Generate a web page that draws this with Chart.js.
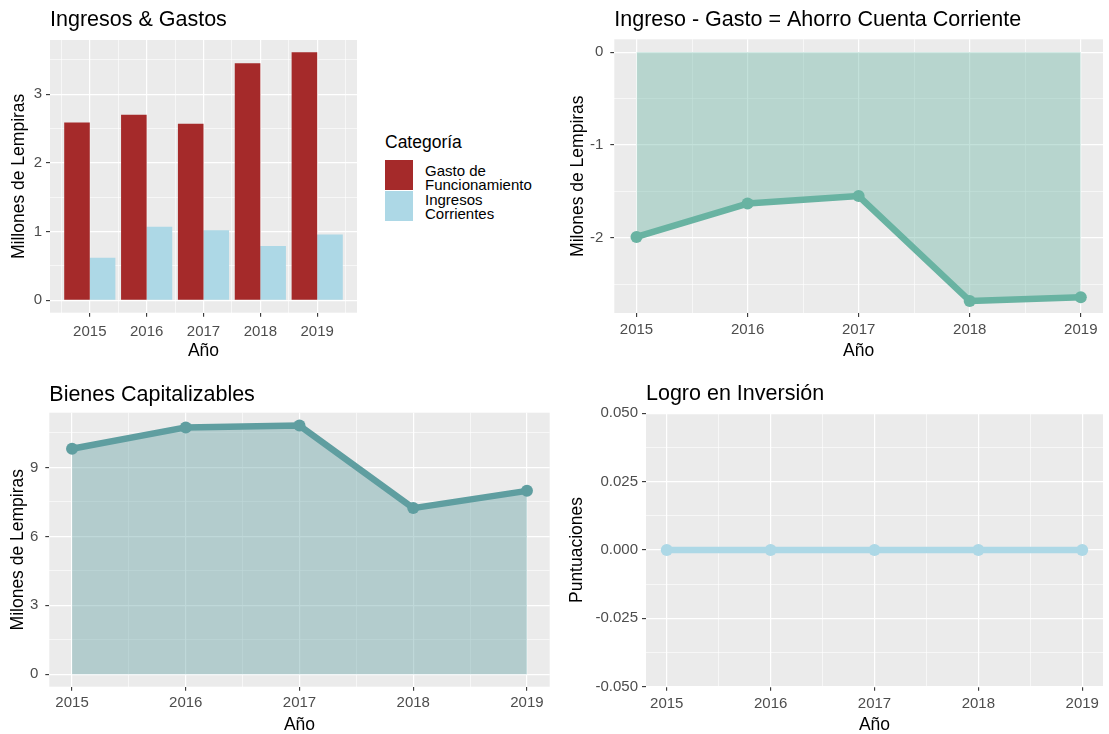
<!DOCTYPE html>
<html lang="es">
<head>
<meta charset="utf-8">
<title>Ingresos, Gastos y Ahorro</title>
<script src="https://cdn.jsdelivr.net/npm/chart.js@4.4.1/dist/chart.umd.min.js"></script>
<style>
    html, body { margin: 0; padding: 0; background: #ffffff; overflow: hidden; }
    body { position: relative; width: 1109px; height: 734px; font-family: Arial, "Liberation Sans", sans-serif; }
    canvas { position: absolute; }
    .leg { position: absolute; color: #000000; white-space: nowrap; }
    .leg-title { font-size: 17.5px; line-height: 17px; }
    .leg-key { width: 28px; height: 30px; }
    .leg-label { font-size: 15px; line-height: 14.3px; }
</style>
</head>
<body>
<canvas id="chart-ingresos" width="365" height="368" style="left:0px;top:0px"></canvas>
<canvas id="chart-ahorro" width="549" height="368" style="left:560px;top:0px"></canvas>
<canvas id="chart-bienes" width="560" height="368" style="left:0px;top:368px"></canvas>
<canvas id="chart-logro" width="549" height="368" style="left:560px;top:368px"></canvas>
<div id="legend"></div>

<script>
    // Values (millones de lempiras)
    var years = [2015, 2016, 2017, 2018, 2019];
    var gastoFuncionamiento = [2.59, 2.70, 2.57, 3.45, 3.61];
    var ingresosCorrientes = [0.62, 1.07, 1.02, 0.79, 0.96];
    var ahorroCuentaCorriente = [-1.99, -1.63, -1.55, -2.68, -2.64];
    var bienesCapitalizables = [9.81, 10.74, 10.82, 7.23, 7.98];
    var logroInversion = [0, 0, 0, 0, 0];

    // Legend
    var categoryTitle = 'Categoría';
    var categoryLabels = [['Gasto de', 'Funcionamiento'], ['Ingresos', 'Corrientes']];

    // Tick values (major ones get a label, minor ones only a thin grid line)
    var yearMinor = [2014.5, 2015.5, 2016.5, 2017.5, 2018.5, 2019.5];
    var ingresosMajor = [0, 1, 2, 3];
    var ingresosMinor = [0.5, 1.5, 2.5, 3.5];
    var ahorroMajor = [-2, -1, 0];
    var ahorroMinor = [-2.5, -1.5, -0.5];
    var bienesMajor = [0, 3, 6, 9];
    var bienesMinor = [1.5, 4.5, 7.5, 10.5];
    var logroMajor = [-0.05, -0.025, 0, 0.025, 0.05];
    var logroMinor = [-0.0375, -0.0125, 0.0125, 0.0375];

    var COLOR_GASTO = '#A52A2A';
    var COLOR_INGRESO = '#ADD8E6';
    var COLOR_AHORRO = '#69B3A2';
    var COLOR_BIENES = '#5F9EA0';
    var COLOR_LOGRO = '#ADD8E6';

    Chart.defaults.font.family = 'Arial, "Liberation Sans", sans-serif';
    Chart.defaults.color = '#4D4D4D';

    // grey panel + left aligned title, ggplot style
    Chart.register({
        id: 'ggPanel',
        beforeDraw: function(chart) {
            var a = chart.chartArea;
            var ctx = chart.ctx;
            ctx.save();
            ctx.fillStyle = '#EBEBEB';
            ctx.fillRect(a.left, a.top, a.right - a.left, a.bottom - a.top);
            ctx.restore();
        },
        afterDraw: function(chart, args, opts) {
            if (!opts.text) return;
            var ctx = chart.ctx;
            ctx.save();
            ctx.font = '21.5px Arial, "Liberation Sans", sans-serif';
            ctx.fillStyle = '#000000';
            ctx.textAlign = 'left';
            ctx.textBaseline = 'alphabetic';
            ctx.fillText(opts.text, chart.chartArea.left, opts.baseline);
            ctx.restore();
        }
    });

    function fmtPlain(v) { return String(v); }
    function fmtThree(v) { return v.toFixed(3); }

    // one linear axis with major/minor grid lines
    function ggAxis(o) {
        var all = o.major.concat(o.minor).filter(function(v) {
            return v >= o.min && v <= o.max;
        }).sort(function(a, b) { return a - b; });
        var isMajor = function(v) { return o.major.indexOf(v) >= 0; };

        return {
            type: 'linear',
            min: o.min,
            max: o.max,
            bounds: 'data',
            offset: false,
            afterBuildTicks: function(scale) {
                scale.ticks = all.map(function(v) { return { value: v }; });
            },
            afterFit: function(scale) {
                if (o.horizontal) scale.height = o.size;
                else scale.width = o.size;
            },
            grid: {
                offset: false,
                color: '#FFFFFF',
                lineWidth: function(c) { return c.tick && isMajor(c.tick.value) ? 1.2 : 0.6; },
                tickColor: function(c) { return c.tick && isMajor(c.tick.value) ? '#333333' : 'rgba(0,0,0,0)'; },
                tickWidth: 1.1,
                tickLength: 4,
                drawTicks: true
            },
            border: { display: false },
            ticks: {
                autoSkip: false,
                maxRotation: 0,
                minRotation: 0,
                padding: o.pad,
                color: '#4D4D4D',
                font: { size: 15 },
                callback: function(v) { return isMajor(v) ? o.fmt(v) : ''; }
            },
            title: {
                display: true,
                text: o.title,
                color: '#000000',
                font: { size: 17.5 },
                padding: o.titlePad
            }
        };
    }

    function points(values) {
        return years.map(function(y, i) { return { x: y, y: values[i] }; });
    }

    function lineSet(values, color, fillColor) {
        return {
            data: points(values),
            borderColor: color,
            borderWidth: 6.5,
            borderJoinStyle: 'round',
            borderCapStyle: 'round',
            backgroundColor: fillColor || 'rgba(0,0,0,0)',
            fill: fillColor ? 'origin' : false,
            pointRadius: 6,
            pointBackgroundColor: color,
            pointBorderWidth: 0,
            tension: 0
        };
    }

    function baseOptions(padding, title, baseline, xAxis, yAxis) {
        return {
            responsive: false,
            maintainAspectRatio: false,
            animation: false,
            devicePixelRatio: 1,
            layout: { padding: padding },
            plugins: {
                legend: { display: false },
                tooltip: { enabled: false },
                title: { display: false },
                ggPanel: { text: title, baseline: baseline }
            },
            scales: { x: xAxis, y: yAxis }
        };
    }

    // Ingresos & Gastos
    // the bar ruler measures the half-year grid ticks, so 1.8 here = 0.9 of one year
    new Chart(document.getElementById('chart-ingresos'), {
        type: 'bar',
        data: {
            datasets: [{
                label: 'Gasto de Funcionamiento',
                data: points(gastoFuncionamiento),
                backgroundColor: COLOR_GASTO,
                borderWidth: 0,
                categoryPercentage: 1.8,
                barPercentage: 1.0
            }, {
                label: 'Ingresos Corrientes',
                data: points(ingresosCorrientes),
                backgroundColor: COLOR_INGRESO,
                borderWidth: 0,
                categoryPercentage: 1.8,
                barPercentage: 1.0
            }]
        },
        options: baseOptions({ left: 0, top: 40, right: 8, bottom: 6.3 }, 'Ingresos & Gastos', 26,
            ggAxis({ horizontal: true, min: 2014.3, max: 2019.7, major: years, minor: yearMinor, fmt: fmtPlain,
                     title: 'Año', size: 49, pad: 5.7, titlePad: { top: 0, bottom: 0 } }),
            ggAxis({ min: -0.18, max: 3.79, major: ingresosMajor, minor: ingresosMinor, fmt: fmtPlain,
                     title: 'Millones de Lempiras', size: 50, pad: 4, titlePad: { top: 8.3, bottom: 0 } }))
    });

    // Ingreso - Gasto = Ahorro Cuenta Corriente
    new Chart(document.getElementById('chart-ahorro'), {
        type: 'line',
        data: { datasets: [lineSet(ahorroCuentaCorriente, COLOR_AHORRO, 'rgba(105,179,162,0.4)')] },
        options: baseOptions({ left: 0, top: 39.3, right: 0, bottom: 6.3 }, 'Ingreso - Gasto = Ahorro Cuenta Corriente', 26,
            ggAxis({ horizontal: true, min: 2014.8, max: 2019.2, major: years, minor: yearMinor, fmt: fmtPlain,
                     title: 'Año', size: 48.7, pad: 4.2, titlePad: { top: 0, bottom: 0 } }),
            ggAxis({ min: -2.81, max: 0.14, major: ahorroMajor, minor: ahorroMinor, fmt: fmtPlain,
                     title: 'Milones de Lempiras', size: 54.3, pad: 7, titlePad: { top: 7.8, bottom: 0 } }))
    });

    // Bienes Capitalizables
    new Chart(document.getElementById('chart-bienes'), {
        type: 'line',
        data: { datasets: [lineSet(bienesCapitalizables, COLOR_BIENES, 'rgba(95,158,160,0.4)')] },
        options: baseOptions({ left: 0, top: 44.7, right: 10.3, bottom: 0 }, 'Bienes Capitalizables', 32.7,
            ggAxis({ horizontal: true, min: 2014.8, max: 2019.2, major: years, minor: yearMinor, fmt: fmtPlain,
                     title: 'Año', size: 49.3, pad: 3.5, titlePad: { top: 0, bottom: 0.5 } }),
            ggAxis({ min: -0.54, max: 11.38, major: bienesMajor, minor: bienesMinor, fmt: fmtPlain,
                     title: 'Milones de Lempiras', size: 49.3, pad: 7, titlePad: { top: 8, bottom: 0 } }))
    });

    // Logro en Inversión
    new Chart(document.getElementById('chart-logro'), {
        type: 'line',
        data: { datasets: [lineSet(logroInversion, COLOR_LOGRO, null)] },
        options: baseOptions({ left: 0, top: 45.3, right: 0, bottom: 0 }, 'Logro en Inversión', 32,
            ggAxis({ horizontal: true, min: 2014.8, max: 2019.2, major: years, minor: yearMinor, fmt: fmtPlain,
                     title: 'Año', size: 49.3, pad: 4.2, titlePad: { top: 0, bottom: 0.5 } }),
            ggAxis({ min: -0.05, max: 0.05, major: logroMajor, minor: logroMinor, fmt: fmtThree,
                     title: 'Puntuaciones', size: 86, pad: 4, titlePad: { top: 7, bottom: 0 } }))
    });

    // HTML legend for the bar chart
    (function() {
        var legend = document.getElementById('legend');
        var colors = [COLOR_GASTO, COLOR_INGRESO];
        var html = '<div class="leg leg-title" style="left:385px;top:134px">' + categoryTitle + '</div>';
        categoryLabels.forEach(function(lines, i) {
            html += '<div class="leg leg-key" style="left:385px;top:' + (160 + i * 31) + 'px;background:' + colors[i] + '"></div>';
            html += '<div class="leg leg-label" style="left:425px;top:' + (163.5 + i * 29.5) + 'px">' + lines.join('<br>') + '</div>';
        });
        legend.innerHTML = html;
    })();
</script>
</body>
</html>
